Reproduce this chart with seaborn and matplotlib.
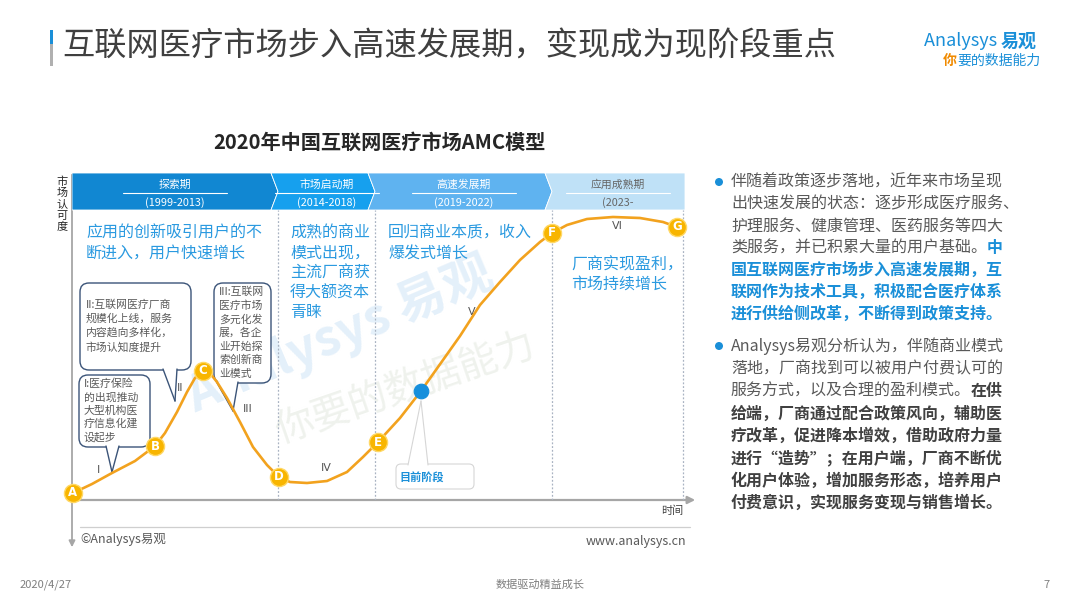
import matplotlib
matplotlib.use("Agg")
import matplotlib.pyplot as plt
from matplotlib.patches import FancyBboxPatch, Polygon, Circle, Rectangle
import pandas as pd
import seaborn as sns

# ---- values ----
# AMC curve: time (x) vs market recognition (y), arbitrary units
curve_time = [1, 20, 40, 63, 83, 93, 105, 115, 123, 131, 137, 145, 155, 168, 181, 195,
              207, 218, 235, 255, 275, 291, 306, 328, 349, 371, 388, 408, 428, 448, 468,
              480, 495, 515, 541, 568, 591, 605]
curve_recog = [7, 16, 27, 39, 54, 67, 88, 108, 122, 129, 128, 118, 102, 78, 53, 35,
               23, 18, 17, 19, 28, 43, 58, 82, 109, 140, 164, 195, 218, 240, 258,
               267, 275, 281, 283, 282, 278, 273]

stage_labels = ["A", "B", "C", "D", "E", "F", "G"]
stage_time = [1, 83, 131, 207, 306, 480, 605]
stage_recog = [7, 54, 129, 23, 58, 267, 273]

current_time = [349]
current_recog = [109]

roman_labels = ["I", "II", "III", "IV", "V", "VI"]
roman_time = [26, 108, 176, 254, 400, 545]
roman_recog = [30, 112, 91, 32, 188, 274]

phase_names = ["探索期", "市场启动期", "高速发展期", "应用成熟期"]
phase_years = ["(1999-2013)", "(2014-2018)", "(2019-2022)", "(2023-"]
phase_bounds = [0, 206, 303, 480, 611]
phase_colors = ["#1187d2", "#16a0ee", "#5fb3f0", "#bfe1f7"]
phase_text = ["white", "white", "white", "#666666"]

phase_notes = [
    ["应用的创新吸引用户的不", "断进入，用户快速增长"],
    ["成熟的商业", "模式出现，", "主流厂商获", "得大额资本", "青睐"],
    ["回归商业本质，收入", "爆发式增长"],
    ["厂商实现盈利，", "市场持续增长"],
]

callout_I = ["I:医疗保险", "的出现推动", "大型机构医", "疗信息化建", "设起步"]
callout_II = ["II:互联网医疗厂商", "规模化上线，服务", "内容趋向多样化，", "市场认知度提升"]
callout_III = ["III:互联网", "医疗市场", "多元化发", "展，各企", "业开始探", "索创新商", "业模式"]

GRAY = "#595959"
BLUE = "#1a8fd8"
DARK = "#404040"

para1 = [
    [("伴随着政策逐步落地，近年来市场呈现", GRAY, "normal")],
    [("出快速发展的状态：逐步形成医疗服务、", GRAY, "normal")],
    [("护理服务、健康管理、医药服务等四大", GRAY, "normal")],
    [("类服务，并已积累大量的用户基础。", GRAY, "normal"), ("中", BLUE, "bold")],
    [("国互联网医疗市场步入高速发展期，互", BLUE, "bold")],
    [("联网作为技术工具，积极配合医疗体系", BLUE, "bold")],
    [("进行供给侧改革，不断得到政策支持。", BLUE, "bold")],
]
para2 = [
    [("Analysys易观分析认为，伴随商业模式", GRAY, "normal")],
    [("落地，厂商找到可以被用户付费认可的", GRAY, "normal")],
    [("服务方式，以及合理的盈利模式。", GRAY, "normal"), ("在供", DARK, "bold")],
    [("给端，厂商通过配合政策风向，辅助医", DARK, "bold")],
    [("疗改革，促进降本增效，借助政府力量", DARK, "bold")],
    [("进行“造势”；在用户端，厂商不断优", DARK, "bold")],
    [("化用户体验，增加服务形态，培养用户", DARK, "bold")],
    [("付费意识，实现服务变现与销售增长。", DARK, "bold")],
]

sns.set_theme(style="white")
plt.rcParams["font.family"] = ["Noto Sans CJK SC", "DejaVu Sans"]

fig = plt.figure(figsize=(10.8, 6.08), dpi=100)
bg = fig.add_axes([0, 0, 1, 1])
bg.set_xlim(0, 1080)
bg.set_ylim(608, 0)
bg.axis("off")
renderer = fig.canvas.get_renderer()


def text_lines(ax, x, y, lines, step, **kw):
    for i, s in enumerate(lines):
        ax.text(x, y + i * step, s, va="center", **kw)


def rich_line(ax, x, y, pieces, size):
    for s, c, w in pieces:
        t = ax.text(x, y, s, color=c, fontweight=w, fontsize=size, va="center", ha="left")
        x += t.get_window_extent(renderer).width


def callout(ax, x0, y0, x1, y1, tail, ec="#3b5478", r=9, lw=1.0):
    box = FancyBboxPatch((x0 + r, y0 + r), x1 - x0 - 2 * r, y1 - y0 - 2 * r,
                         boxstyle=f"round,pad={r}", fc="white", ec=ec, lw=lw, zorder=3)
    ax.add_patch(box)
    ax.add_patch(Polygon(tail, closed=True, fc="white", ec="none", zorder=4))
    ax.plot([tail[0][0], tail[2][0]], [tail[0][1], tail[2][1]], color=ec, lw=lw, zorder=4)
    ax.plot([tail[1][0], tail[2][0]], [tail[1][1], tail[2][1]], color=ec, lw=lw, zorder=4)


# ---- page title and logo ----
bg.add_patch(Rectangle((50, 30), 3, 14, color="#1a8fd8", lw=0))
bg.add_patch(Rectangle((50, 44), 3, 22, color="#b0b0b0", lw=0))
bg.text(62, 47, "互联网医疗市场步入高速发展期，变现成为现阶段重点", fontsize=23.2,
        color="#3f3f3f", va="center", ha="left")
rich_line(bg, 924, 41, [("Analysys ", "#1a8fd8", "normal"), ("易观", "#1a8fd8", "bold")], 13)
rich_line(bg, 943, 61, [("你", "#f08a00", "bold"), ("要的数据能力", "#1a8fd8", "normal")], 10)

# ---- chart title ----
bg.text(379, 142, "2020年中国互联网医疗市场AMC模型", fontsize=14.5, fontweight="bold",
        color="#262626", ha="center", va="center")

# ---- watermark ----
bg.text(340, 335, "Analysys 易观", fontsize=36, fontweight="bold", fontstyle="italic",
        color="#e4f0fa", rotation=23, ha="center", va="center", zorder=0.5)
bg.text(405, 388, "你要的数据能力", fontsize=28, color="#eff2ed", rotation=19,
        ha="center", va="center", zorder=0.5)

# ---- axes frame ----
bg.annotate("", xy=(72, 550), xytext=(72, 172),
            arrowprops=dict(arrowstyle="-|>", color="#a6a6a6", lw=1.3, mutation_scale=9))
bg.annotate("", xy=(698, 500), xytext=(72, 500),
            arrowprops=dict(arrowstyle="-|>", color="#a6a6a6", lw=1.6, mutation_scale=11))
text_lines(bg, 62, 182, list("市场认可度"), 11.2, fontsize=8, color="#262626", ha="center")
bg.text(672, 511, "时间", fontsize=8, color=DARK, ha="center", va="center")
bg.plot([80, 690], [527, 527], color="#cfcfcf", lw=0.9)
bg.text(80, 540, "©Analysys易观", fontsize=9, color=GRAY, ha="left", va="center")
bg.text(686, 541, "www.analysys.cn", fontsize=9, color=GRAY, ha="right", va="center")

# ---- chart area (time vs recognition) ----
cax = fig.add_axes([72 / 1080, 108 / 608, 618 / 1080, 328 / 608])
cax.set_xlim(0, 618)
cax.set_ylim(0, 328)
cax.axis("off")

band_lo, band_hi = 290, 327
band_mid = (band_lo + band_hi) / 2
for i, name in enumerate(phase_names):
    b0, b1 = phase_bounds[i], phase_bounds[i + 1]
    if i == 0:
        pts = [(b0, band_lo), (b1 - 7, band_lo), (b1, band_mid), (b1 - 7, band_hi), (b0, band_hi)]
    elif i == len(phase_names) - 1:
        pts = [(b0 - 7, band_lo), (b1 + 2, band_lo), (b1 + 2, band_hi), (b0 - 7, band_hi), (b0, band_mid)]
    else:
        pts = [(b0 - 7, band_lo), (b1 - 7, band_lo), (b1, band_mid), (b1 - 7, band_hi),
               (b0 - 7, band_hi), (b0, band_mid)]
    cax.add_patch(Polygon(pts, closed=True, fc=phase_colors[i], ec="white", lw=0.6, zorder=1))
    cx = (b0 + b1) / 2
    cax.text(cx, 315, name, fontsize=7.8, color=phase_text[i], ha="center", va="center", zorder=2)
    cax.plot([cx - 52, cx + 52], [307, 307], color="white", lw=0.8, zorder=2)
    cax.text(cx, 297, phase_years[i], fontsize=7.8, color=phase_text[i], ha="center",
             va="center", zorder=2)

cax.vlines(phase_bounds[1:], 0, band_lo, colors="#a9b3c2", linestyles=(0, (1.5, 1.5)), lw=0.9, zorder=1)

curve = pd.DataFrame({"time": curve_time, "recognition": curve_recog})
sns.lineplot(data=curve, x="time", y="recognition", ax=cax, color="#f2a21e", lw=1.9,
             sort=False, estimator=None, zorder=5, legend=False)

stages = pd.DataFrame({"time": stage_time, "recognition": stage_recog, "label": stage_labels})
sns.scatterplot(data=stages, x="time", y="recognition", ax=cax, s=170, color="#f8b500",
                edgecolor="#ffd866", linewidth=1, zorder=6, legend=False, clip_on=False)
for _, r in stages.iterrows():
    cax.text(r["time"], r["recognition"], r["label"], color="white", fontsize=8.5,
             fontweight="bold", ha="center", va="center", zorder=7, family="DejaVu Sans")

now = pd.DataFrame({"time": current_time, "recognition": current_recog})
sns.scatterplot(data=now, x="time", y="recognition", ax=cax, s=110, color="#168fdc",
                edgecolor="#168fdc", zorder=6, legend=False)

for lab, t, v in zip(roman_labels, roman_time, roman_recog):
    cax.text(t, v, lab, fontsize=8, color="#555555", ha="center", va="center", zorder=4,
             family="DejaVu Sans")
cax.set_xlabel("")
cax.set_ylabel("")

# ---- phase notes (blue) ----
note_pos = [(86, 233, 20), (290, 233, 20), (388, 233, 20), (571, 265, 19)]
for (x, y, st), lines in zip(note_pos, phase_notes):
    text_lines(bg, x, y, lines, st, fontsize=11.5, color="#2b9ae0", ha="left")

# ---- callouts ----
callout(bg, 80, 283, 191, 370, [(163, 369), (177, 369), (175, 401)])
text_lines(bg, 86, 305, callout_II, 14, fontsize=7.8, color=GRAY, ha="left", zorder=5)
callout(bg, 79, 375, 150, 447, [(106, 446), (119, 446), (112, 472)])
text_lines(bg, 84, 384, callout_I, 13.3, fontsize=7.8, color=GRAY, ha="left", zorder=5)
callout(bg, 214, 283, 271, 383, [(216, 381), (238, 382), (233, 411)])
text_lines(bg, 219, 292, callout_III, 13.6, fontsize=7.8, color=GRAY, ha="left", zorder=5)

callout(bg, 396, 464, 474, 489, [(408, 465), (428, 465), (421, 401)], ec="#d6d6d6", r=5, lw=0.8)
bg.text(399, 477, "目前阶段", fontsize=8, fontweight="bold", color=BLUE, ha="left",
        va="center", zorder=5)

# ---- right-hand text ----
for start, para, step in [(182, para1, 22), (346, para2, 22.4)]:
    bg.add_patch(Circle((719, start), 4, color=BLUE, lw=0))
    for i, pieces in enumerate(para):
        rich_line(bg, 731, start + i * step, pieces, 11.5)

# ---- footer ----
bg.text(20, 585, "2020/4/27", fontsize=8, color="#7f7f7f", ha="left", va="center")
bg.text(540, 585, "数据驱动精益成长", fontsize=8, color="#7f7f7f", ha="center", va="center")
bg.text(1050, 585, "7", fontsize=8, color="#7f7f7f", ha="right", va="center")

fig.savefig("out.png", dpi=100)
